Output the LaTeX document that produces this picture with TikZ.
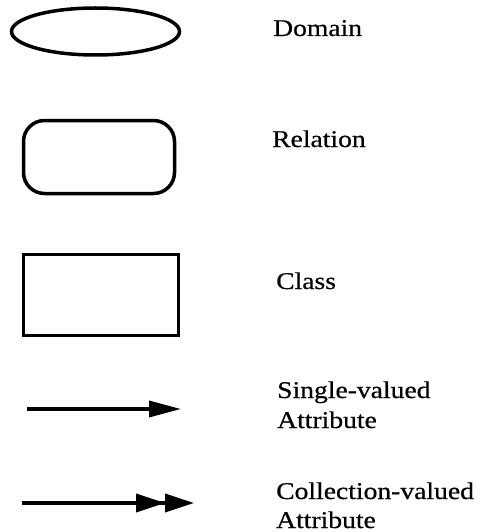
\documentclass[tikz,border=0pt]{standalone}
\usepackage{fontspec}
\setmainfont[FakeStretch=1.15,FakeBold=0.6]{Liberation Serif}
\usetikzlibrary{arrows.meta,shapes.geometric}
\begin{document}
\begin{tikzpicture}[x=1pt,y=-1pt,
  shapeline/.style={draw=black,line width=3.5pt},
  lbl/.style={anchor=base west,inner sep=0pt,font=\fontsize{24}{29}\selectfont},
  conn/.style={line width=3.5pt}]
\useasboundingbox (0,0) rectangle (485,532);
% shapes
\node[shapeline,ellipse,minimum width=168pt,minimum height=47pt,inner sep=0pt] (domain) at (95.5,31.5) {};
\node[shapeline,rectangle,rounded corners=21pt,minimum width=151pt,minimum height=73pt,inner sep=0pt] (relation) at (99,157) {};
\node[shapeline,rectangle,line width=3.8pt,minimum width=155pt,minimum height=81pt,inner sep=0pt] (class) at (101,295) {};
% arrows
\coordinate (s1) at (27,409);
\coordinate (e1) at (181,409);
\coordinate (s2) at (22,503);
\coordinate (e2) at (194,503);
\draw[conn,-{Triangle[length=32pt,width=16pt]}] (s1) -- (e1);
\draw[conn,-{Triangle[length=29pt,width=18pt,sep=0pt]Triangle[length=29pt,width=18pt]}] (s2) -- (e2);
% labels
\node[lbl] (tdomain) at (273,36) {Domain};
\node[lbl] (trelation) at (272,147) {Relation};
\node[lbl] (tclass) at (276,289) {Class};
\node[lbl] (tsingle) at (277,398) {Single-valued};
\node[lbl] (tsingleb) at (277,428) {Attribute};
\node[lbl] (tcoll) at (276,499) {Collection-valued};
\node[lbl] (tcollb) at (276,528) {Attribute};
\end{tikzpicture}
\end{document}
